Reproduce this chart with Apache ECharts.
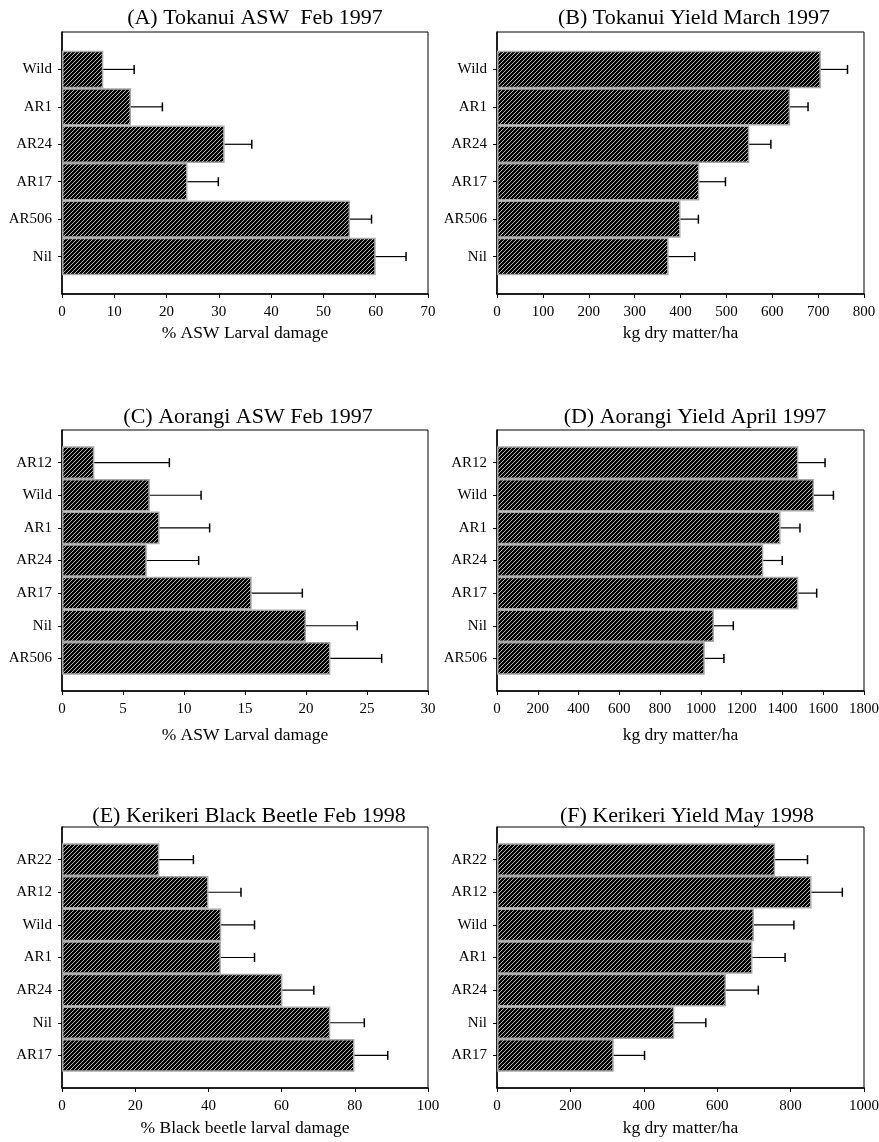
<!DOCTYPE html>
<html>
<head>
<meta charset="utf-8">
<script src="https://cdn.jsdelivr.net/npm/echarts@6/dist/echarts.min.js"></script>
<style>
  html, body { margin: 0; padding: 0; background: #fff; }
  #chart { width: 879px; height: 1142px; }
</style>
</head>
<body>
<div id="chart"></div>
<script>
// ---- Panel data (categories listed top to bottom) ----
const titleA = '(A) Tokanui ASW  Feb 1997';
const catsA = ['Wild', 'AR1', 'AR24', 'AR17', 'AR506', 'Nil'];
const valsA = [7.9, 13.2, 31.1, 24.0, 55.1, 60.0];
const errA  = [5.9, 6.0, 5.2, 5.9, 4.1, 5.8];
const ticksA = { max: 70, interval: 10 };
const nameA = '% ASW Larval damage';

const titleB = '(B) Tokanui Yield March 1997';
const catsB = ['Wild', 'AR1', 'AR24', 'AR17', 'AR506', 'Nil'];
const valsB = [706, 639, 550, 441, 400, 374];
const errB  = [58, 39, 47, 57, 39, 57];
const ticksB = { max: 800, interval: 100 };
const nameB = 'kg dry matter/ha';

const titleC = '(C) Aorangi ASW Feb 1997';
const catsC = ['AR12', 'Wild', 'AR1', 'AR24', 'AR17', 'Nil', 'AR506'];
const valsC = [2.65, 7.2, 8.0, 6.95, 15.55, 20.0, 22.0];
const errC  = [6.15, 4.2, 4.1, 4.25, 4.15, 4.2, 4.2];
const ticksC = { max: 30, interval: 5 };
const nameC = '% ASW Larval damage';

const titleD = '(D) Aorangi Yield April 1997';
const catsD = ['AR12', 'Wild', 'AR1', 'AR24', 'AR17', 'Nil', 'AR506'];
const valsD = [1478, 1555, 1391, 1306, 1478, 1064, 1019];
const errD  = [131, 95, 95, 93, 90, 95, 94];
const ticksD = { max: 1800, interval: 200 };
const nameD = 'kg dry matter/ha';

const titleE = '(E) Kerikeri Black Beetle Feb 1998';
const catsE = ['AR22', 'AR12', 'Wild', 'AR1', 'AR24', 'Nil', 'AR17'];
const valsE = [26.6, 40.0, 43.5, 43.4, 60.2, 73.3, 79.9];
const errE  = [9.3, 8.9, 9.1, 9.2, 8.6, 9.3, 9.1];
const ticksE = { max: 100, interval: 20 };
const nameE = '% Black beetle larval damage';

const titleF = '(F) Kerikeri Yield May 1998';
const catsF = ['AR22', 'AR12', 'Wild', 'AR1', 'AR24', 'Nil', 'AR17'];
const valsF = [758, 857, 700, 696, 624, 483, 318];
const errF  = [88, 84, 109, 89, 88, 86, 84];
const ticksF = { max: 1000, interval: 200 };
const nameF = 'kg dry matter/ha';

// ---- Hatched fill: black with one-pixel light diagonal lines ("/") ----
function makeHatch() {
  const s = 4;
  const c = document.createElement('canvas');
  c.width = s; c.height = s;
  const g = c.getContext('2d');
  g.fillStyle = '#000';
  g.fillRect(0, 0, s, s);
  g.fillStyle = '#b4b4b4';
  for (let y = 0; y < s; y++) {
    for (let x = 0; x < s; x++) {
      if ((x + y) % s === s - 1) g.fillRect(x, y, 1, 1);
    }
  }
  return c;
}
const hatch = { image: makeHatch(), repeat: 'repeat' };

const FONT = '"Liberation Serif", "Times New Roman", serif';

const panels = [
  { title: titleA, cats: catsA, vals: valsA, err: errA, ticks: ticksA, name: nameA,
    box: { left: 62, top: 32, width: 366, height: 262 }, titleX: 250, titleY: 2, nameGap: 30 },
  { title: titleB, cats: catsB, vals: valsB, err: errB, ticks: ticksB, name: nameB,
    box: { left: 497, top: 32, width: 367, height: 262 }, titleX: 689, titleY: 2, nameGap: 30 },
  { title: titleC, cats: catsC, vals: valsC, err: errC, ticks: ticksC, name: nameC,
    box: { left: 62, top: 430, width: 366, height: 261 }, titleX: 243, titleY: 401, nameGap: 35 },
  { title: titleD, cats: catsD, vals: valsD, err: errD, ticks: ticksD, name: nameD,
    box: { left: 497, top: 430, width: 367, height: 261 }, titleX: 690, titleY: 401, nameGap: 35 },
  { title: titleE, cats: catsE, vals: valsE, err: errE, ticks: ticksE, name: nameE,
    box: { left: 62, top: 827, width: 366, height: 261 }, titleX: 244, titleY: 800, nameGap: 31 },
  { title: titleF, cats: catsF, vals: valsF, err: errF, ticks: ticksF, name: nameF,
    box: { left: 497, top: 827, width: 367, height: 261 }, titleX: 682, titleY: 800, nameGap: 31 }
];

const option = {
  backgroundColor: '#fff',
  animation: false,
  title: [], grid: [], xAxis: [], yAxis: [], series: []
};

panels.forEach((p, i) => {
  // blank slots at each end leave half a bar of space above and below
  const axisCats = [''].concat(p.cats, ['']);
  option.title.push({
    text: p.title, left: p.titleX, top: p.titleY, textAlign: 'center',
    textStyle: { fontFamily: FONT, fontSize: 22, fontWeight: 'normal', color: '#000' }
  });
  option.grid.push(Object.assign({
    show: true, borderColor: '#000', borderWidth: 1, backgroundColor: 'transparent',
    containLabel: false, outerBoundsMode: 'none'
  }, p.box));
  option.xAxis.push({
    type: 'value', gridIndex: i, min: 0, max: p.ticks.max, interval: p.ticks.interval,
    name: p.name, nameLocation: 'middle', nameGap: p.nameGap,
    nameTextStyle: { fontFamily: FONT, fontSize: 17.5, color: '#000', verticalAlign: 'top' },
    axisLine: { show: true, lineStyle: { color: '#000', width: 1.5 } },
    axisTick: { show: true, inside: false, length: 4, lineStyle: { color: '#000', width: 1 } },
    axisLabel: { fontFamily: FONT, fontSize: 15, color: '#000', margin: 11,
                 formatter: (v) => String(v) },
    splitLine: { show: false }
  });
  option.yAxis.push({
    type: 'category', gridIndex: i, inverse: true, boundaryGap: false, data: axisCats,
    axisLine: { show: true, lineStyle: { color: '#000', width: 1.5 } },
    axisTick: { show: true, inside: false, length: 4, interval: (idx, v) => v !== '',
                lineStyle: { color: '#000', width: 1 } },
    axisLabel: { interval: 0, fontFamily: FONT, fontSize: 15, color: '#000', margin: 10 },
    splitLine: { show: false }
  });
  option.series.push({
    type: 'bar', xAxisIndex: i, yAxisIndex: i, barWidth: '100%',
    data: [null].concat(p.vals, [null]),
    itemStyle: { color: hatch, borderColor: '#a8a8a8', borderWidth: 1.5 },
    silent: true, z: 2
  });
  // error bars: line from bar end to mean + SE, with a vertical cap
  const errData = p.vals.map((v, k) => [k + 1, v, v + p.err[k]]);
  option.series.push({
    type: 'custom', xAxisIndex: i, yAxisIndex: i, silent: true, z: 3,
    data: errData,
    renderItem: (params, api) => {
      const idx = api.value(0);
      const a = api.coord([api.value(1), idx]);
      const b = api.coord([api.value(2), idx]);
      const cap = 4.5;
      return {
        type: 'group',
        children: [
          { type: 'line', shape: { x1: a[0], y1: a[1], x2: b[0], y2: b[1] },
            style: { stroke: '#000', lineWidth: 1.2 } },
          { type: 'line', shape: { x1: b[0], y1: b[1] - cap, x2: b[0], y2: b[1] + cap },
            style: { stroke: '#000', lineWidth: 1.5 } }
        ]
      };
    },
    encode: { x: [1, 2], y: 0 }
  });
});

const chart = echarts.init(document.getElementById('chart'), null, { renderer: 'canvas' });
chart.setOption(option);
</script>
</body>
</html>
